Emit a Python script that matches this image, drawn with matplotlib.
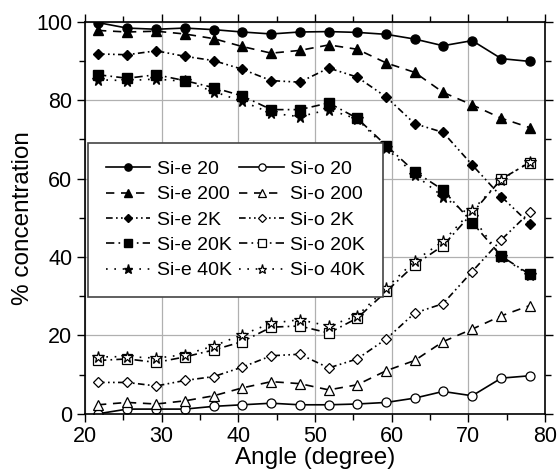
import matplotlib
matplotlib.use("Agg")
from matplotlib import pyplot as plt
from matplotlib.ticker import MultipleLocator

plt.rcParams['font.family'] = ['Liberation Sans', 'DejaVu Sans']

# Angle values (degree)
angle = [21.7, 25.5, 29.3, 33.0, 36.8, 40.5, 44.3, 48.0, 51.8, 55.5, 59.3, 63.0, 66.7, 70.5, 74.3, 78.0]

# Si-e series
si_e_20 = [99.8, 98.4, 98.1, 98.4, 98.0, 97.4, 96.9, 97.4, 97.5, 97.3, 96.8, 95.6, 93.9, 95.2, 90.6, 89.9]
si_e_200 = [97.8, 97.4, 97.6, 96.9, 95.7, 93.7, 92.0, 92.7, 94.1, 93.0, 89.5, 87.1, 82.0, 78.8, 75.4, 73.0]
si_e_2k = [91.8, 91.6, 92.6, 91.2, 90.1, 87.9, 85.0, 84.6, 88.2, 85.9, 80.8, 74.0, 71.8, 63.5, 55.4, 48.5]
si_e_20k = [86.5, 85.6, 86.5, 85.0, 83.2, 81.1, 77.6, 77.6, 79.3, 75.4, 68.4, 61.8, 57.1, 48.8, 40.2, 35.6]
si_e_40k = [85.2, 85.0, 85.4, 84.8, 82.2, 79.7, 76.7, 75.8, 77.6, 75.2, 67.8, 61.0, 55.4, 50.3, 40.0, 35.4]

# Si-o series
si_o_20 = [0.0, 1.2, 1.2, 1.2, 1.9, 2.3, 2.7, 2.3, 2.3, 2.5, 2.9, 4.0, 5.7, 4.6, 9.1, 9.7]
si_o_200 = [2.3, 2.9, 2.5, 3.3, 4.6, 6.6, 8.2, 7.7, 6.1, 7.4, 11.0, 13.6, 18.4, 21.6, 25.0, 27.6]
si_o_2k = [8.0, 8.0, 7.1, 8.5, 9.5, 11.9, 14.8, 15.2, 11.7, 14.0, 19.1, 25.7, 28.1, 36.3, 44.4, 51.4]
si_o_20k = [13.6, 14.0, 13.1, 14.5, 16.3, 18.4, 22.1, 22.4, 20.6, 24.4, 31.2, 38.0, 42.9, 51.2, 59.9, 64.1]
si_o_40k = [14.5, 14.6, 14.2, 15.1, 17.3, 20.2, 23.1, 24.0, 22.4, 25.0, 32.1, 39.0, 44.0, 51.9, 59.7, 64.3]

labels_e = ['Si-e 20', 'Si-e 200', 'Si-e 2K', 'Si-e 20K', 'Si-e 40K']
labels_o = ['Si-o 20', 'Si-o 200', 'Si-o 2K', 'Si-o 20K', 'Si-o 40K']

styles = [
    ('o', (None, None)),
    ('^', (5, 4)),
    ('D', (4, 2, 1, 2, 1, 2)),
    ('s', (5, 2.5, 1, 2.5)),
    ('*', (1, 4)),
]

fig = plt.figure(figsize=(5.59, 4.74), dpi=100)
ax = fig.add_axes([0.152, 0.127, 0.823, 0.827])

series_e = [si_e_20, si_e_200, si_e_2k, si_e_20k, si_e_40k]
series_o = [si_o_20, si_o_200, si_o_2k, si_o_20k, si_o_40k]

handles = []
for vals, lab, (mk, dsh) in zip(series_e, labels_e, styles):
    ms = 8.5 if mk == '*' else (5.5 if mk == 'D' else 6.5)
    ln, = ax.plot(angle, vals, color='black', lw=1.2, marker=mk, ms=ms,
                  mfc='black', mec='black', label=lab)
    if dsh[0] is not None:
        ln.set_dashes(dsh)
    handles.append(ln)
for vals, lab, (mk, dsh) in zip(series_o, labels_o, styles):
    ms = 8.5 if mk == '*' else (5.5 if mk == 'D' else 6.5)
    ln, = ax.plot(angle, vals, color='black', lw=1.2, marker=mk, ms=ms,
                  mfc='white', mec='black', mew=0.9, label=lab)
    if dsh[0] is not None:
        ln.set_dashes(dsh)
    handles.append(ln)

ax.set_xlim(20, 80)
ax.set_ylim(0, 100)
ax.xaxis.set_major_locator(MultipleLocator(10))
ax.xaxis.set_minor_locator(MultipleLocator(5))
ax.yaxis.set_major_locator(MultipleLocator(20))
ax.yaxis.set_minor_locator(MultipleLocator(10))
ax.grid(True, which='major', color='#b0b0b0', lw=0.9)
ax.set_axisbelow(True)
ax.tick_params(which='both', direction='out', top=True, right=True,
               labeltop=False, labelright=False, width=1.0)
ax.tick_params(which='major', length=6, labelsize=15.5, pad=3)
ax.tick_params(which='minor', length=4)
for sp in ax.spines.values():
    sp.set_linewidth(1.2)

ax.set_xlabel('Angle (degree)', fontsize=17.5, labelpad=0)
ax.set_ylabel('% concentration', fontsize=17.5, labelpad=2)

leg = ax.legend(handles=handles, ncol=2, loc='lower left',
                bbox_to_anchor=(0.007, 0.298), borderaxespad=0, fontsize=14,
                handlelength=2.3, handletextpad=0.32, columnspacing=0.4,
                labelspacing=0.4, borderpad=0.9, markerscale=0.8,
                fancybox=False, framealpha=1, edgecolor='#444444')
leg.get_frame().set_linewidth(1.2)

fig.savefig('out.png', dpi=100)
plt.close(fig)
